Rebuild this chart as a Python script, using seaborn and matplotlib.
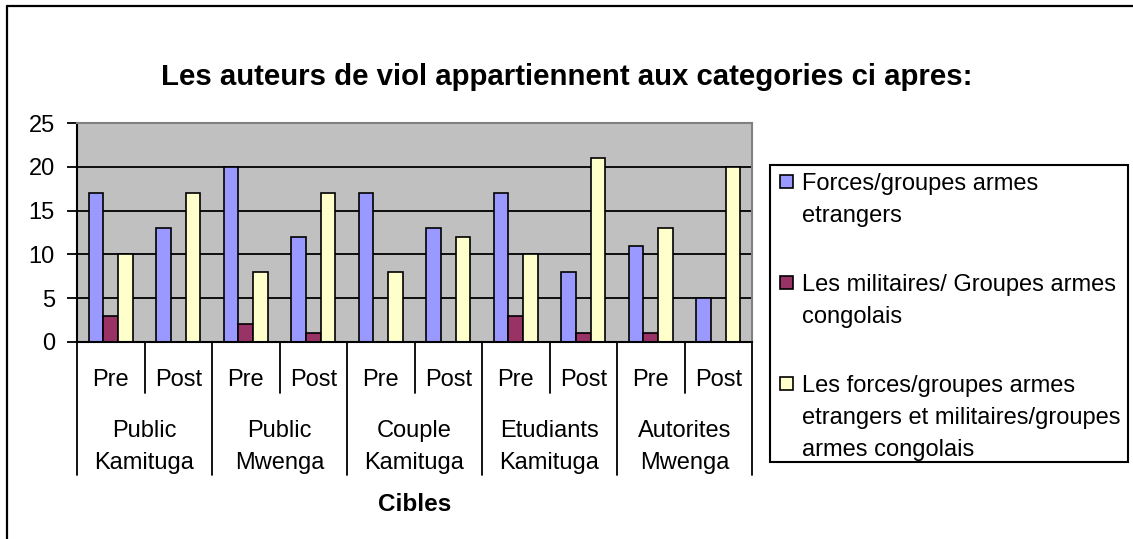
import pandas as pd
import matplotlib
matplotlib.use("Agg")
import matplotlib.pyplot as plt
import seaborn as sns
from matplotlib.patches import Rectangle
from matplotlib.lines import Line2D

# chart data
groups = ["Public\nKamituga", "Public\nMwenga", "Couple\nKamituga",
          "Etudiants\nKamituga", "Autorites\nMwenga"]
periods = ["Pre", "Post"]
series = ["Forces/groupes armes\netrangers",
          "Les militaires/ Groupes armes\ncongolais",
          "Les forces/groupes armes\netrangers et militaires/groupes\narmes congolais"]
colors = ["#9999FF", "#993366", "#FFFFCC"]

forces_etrangers = [17, 13, 20, 12, 17, 13, 17, 8, 11, 5]
militaires_congolais = [3, 0, 2, 1, 0, 0, 3, 1, 1, 0]
les_deux = [10, 17, 8, 17, 8, 12, 10, 21, 13, 20]

yticks = [0, 5, 10, 15, 20, 25]
title = "Les auteurs de viol appartiennent aux categories ci apres:"
xlabel = "Cibles"

slots = [f"{g}|{p}" for g in groups for p in periods]
rows = []
for name, vals in zip(series, [forces_etrangers, militaires_congolais, les_deux]):
    for slot, v in zip(slots, vals):
        rows.append({"slot": slot, "series": name, "value": v})
df = pd.DataFrame(rows)

sns.set_theme(style="white")
plt.rcParams["font.family"] = ["Liberation Sans", "DejaVu Sans"]
plt.rcParams["text.color"] = "black"
plt.rcParams["axes.labelcolor"] = "black"
plt.rcParams["xtick.color"] = "black"
plt.rcParams["ytick.color"] = "black"

W, H = 1133, 539
fig = plt.figure(figsize=(W / 100, H / 100), dpi=100)
ax = fig.add_axes([77 / W, (H - 342) / H, 675 / W, 219 / H])

sns.barplot(data=df, x="slot", y="value", hue="series", order=slots,
            hue_order=series, palette=colors, width=0.652, saturation=1,
            edgecolor="black", linewidth=1.2, errorbar=None, legend=False, ax=ax)

ax.set_facecolor("#C0C0C0")
ax.set_ylim(0, 25)
ax.set_xlim(-0.5, len(slots) - 0.5)
ax.set_yticks(yticks)
ax.yaxis.grid(True, color="black", linewidth=1.3)
ax.set_axisbelow(True)
ax.set_xlabel("")
ax.set_ylabel("")
ax.tick_params(axis="x", length=0, labelbottom=False)
ax.tick_params(axis="y", direction="out", length=7, width=1.3, pad=9,
               labelsize=17, left=True, colors="black")
for side in ["top", "right"]:
    ax.spines[side].set_color("#808080")
    ax.spines[side].set_linewidth(1.5)
for side in ["left", "bottom"]:
    ax.spines[side].set_color("black")
    ax.spines[side].set_linewidth(1.5)

# multi-level category axis
trans = ax.get_xaxis_transform()
for i in range(len(slots) + 1):
    x = i - 0.5
    y_end = -0.607 if i % 2 == 0 else -0.233
    ax.plot([x, x], [0, y_end], transform=trans, color="black", lw=1.3,
            clip_on=False)
for i, slot in enumerate(slots):
    ax.text(i, -0.1735, slot.split("|")[1], transform=trans, ha="center",
            va="center", fontsize=17)
for j, g in enumerate(groups):
    ax.text(2 * j + 0.5, -0.478, g, transform=trans, ha="center",
            va="center", fontsize=17, linespacing=1.6)
ax.text(0.5, -0.744, xlabel, transform=ax.transAxes, ha="center",
        va="center", fontsize=17.5, fontweight="bold")

fig.text(0.5, 1 - 77 / H, title, ha="center", va="center", fontsize=21.2,
         fontweight="bold")

# legend box (Excel style: swatch aligned to first line)
fig.add_artist(Rectangle((770 / W, 1 - 462 / H), 358 / W, 297 / H,
                         transform=fig.transFigure, facecolor="white",
                         edgecolor="black", lw=1.5))
top = 173
for name, col in zip(series, colors):
    fig.add_artist(Rectangle((780 / W, 1 - (top + 15) / H), 13 / W, 13 / H,
                             transform=fig.transFigure, facecolor=col,
                             edgecolor="black", lw=1.2))
    fig.text(802 / W, 1 - top / H, name, ha="left", va="top", fontsize=17,
             linespacing=1.58)
    top += 32 * len(name.split("\n")) + 37

# outer chart border
fig.add_artist(Line2D([7 / W, 7 / W], [0, 1 - 6 / H], color="black", lw=1.6))
fig.add_artist(Line2D([7 / W, 1], [1 - 6 / H, 1 - 6 / H], color="black", lw=1.6))

fig.savefig("out.png", dpi=100)
